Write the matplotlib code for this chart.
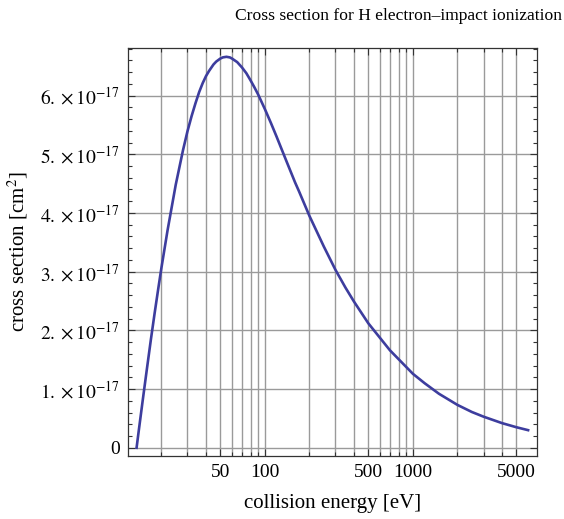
import numpy as np
import matplotlib
matplotlib.use('Agg')
import matplotlib.pyplot as plt
from matplotlib.ticker import FixedLocator, FuncFormatter

plt.rcParams['font.family'] = ['Liberation Serif', 'DejaVu Serif']
plt.rcParams['mathtext.fontset'] = 'stix'

# Collision energy (eV) and cross section (units of 1e-17 cm^2)
energy = [13.6, 14, 15, 16, 17, 18, 19, 20, 22, 25, 28, 30, 32, 34, 36, 38, 40,
          42, 45, 47, 50, 52, 55, 58, 60, 65, 70, 75, 80, 85, 90, 100, 110, 120,
          140, 160, 170, 200, 250, 300, 350, 400, 500, 700, 1000, 1200, 1500,
          2000, 2500, 3000, 4000, 5000, 6000]
sigma = [0.0, 0.25, 0.83, 1.36, 1.85, 2.29, 2.69, 3.06, 3.70, 4.48, 5.07, 5.39,
         5.65, 5.87, 6.06, 6.21, 6.33, 6.42, 6.53, 6.58, 6.63, 6.65, 6.66, 6.65,
         6.63, 6.57, 6.48, 6.38, 6.26, 6.14, 6.02, 5.77, 5.53, 5.30, 4.88, 4.52,
         4.37, 3.95, 3.43, 3.03, 2.73, 2.49, 2.12, 1.66, 1.26, 1.10, 0.92, 0.73,
         0.61, 0.53, 0.42, 0.35, 0.30]

x_major = [50, 100, 500, 1000, 5000]
x_minor = [20, 30, 40, 60, 70, 80, 90, 200, 300, 400, 600, 700, 800, 900,
           2000, 3000, 4000]
y_major = [0, 1, 2, 3, 4, 5, 6]

energy = np.array(energy)
sigma = np.array(sigma) * 1e-17

fig = plt.figure(figsize=(5.64, 5.19), dpi=100)
ax = fig.add_axes([128 / 564, 1 - 456 / 519, 409 / 564, 408 / 519])

ax.set_xscale('log')
ax.set_xlim(11.9, 6890)
ax.set_ylim(-0.14e-17, 6.81e-17)

# grid
for xv in x_major + x_minor:
    ax.axvline(xv, color='#9a9a9a', lw=1.0, zorder=1)
for yv in y_major:
    ax.axhline(yv * 1e-17, color='#9a9a9a', lw=1.0, zorder=1)

ax.plot(energy, sigma, color='#3d3d9e', lw=1.9, zorder=3, solid_joinstyle='round')

ax.xaxis.set_major_locator(FixedLocator(x_major))
ax.xaxis.set_minor_locator(FixedLocator(x_minor))
ax.xaxis.set_major_formatter(FuncFormatter(lambda v, p: f'{int(v)}'))
ax.xaxis.set_minor_formatter(FuncFormatter(lambda v, p: ''))

ax.yaxis.set_major_locator(FixedLocator([v * 1e-17 for v in y_major]))
ax.yaxis.set_minor_locator(FixedLocator([v * 0.2e-17 for v in range(0, 35) if v % 5]))


def yfmt(v, p):
    n = int(round(v / 1e-17))
    if n == 0:
        return '0'
    return r'$%d.\times10^{-17}$' % n


ax.yaxis.set_major_formatter(FuncFormatter(yfmt))

ax.tick_params(which='both', direction='in', top=True, right=True,
               color='#333333', width=0.8, labelsize=14, pad=6)
ax.tick_params(which='major', length=5)
ax.tick_params(which='minor', length=3)
for s in ax.spines.values():
    s.set_color('#333333')
    s.set_linewidth(0.9)

ax.set_xlabel('collision energy [eV]', fontsize=15, labelpad=9)
ax.set_ylabel(r'cross section [cm$^2$]', fontsize=15, labelpad=7)

fig.text(562 / 564, 1 - 16 / 519, 'Cross section for H electron\u2013impact ionization',
         ha='right', va='center', fontsize=12.6)

fig.savefig('out.png', dpi=100)
